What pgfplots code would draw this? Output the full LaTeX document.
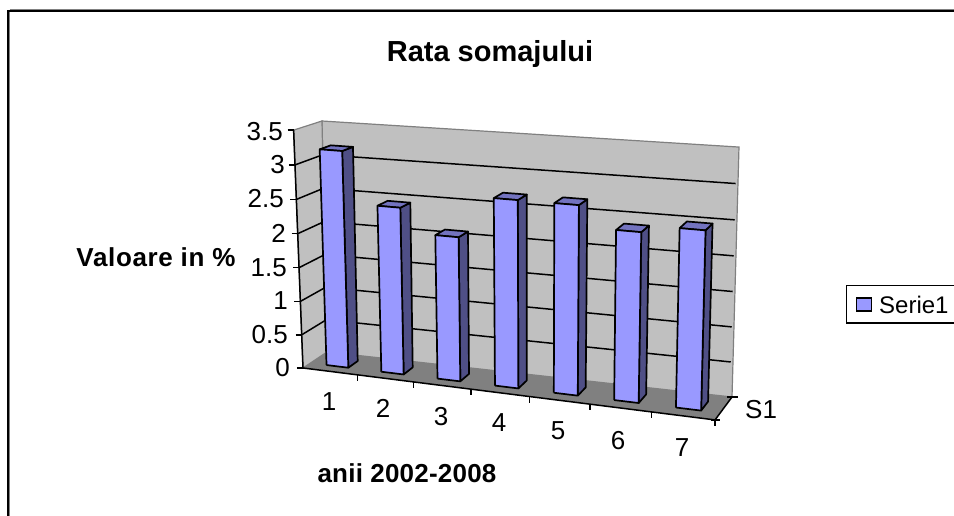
\documentclass[border=0pt]{standalone}
\usepackage{fontspec}
\setmainfont{Liberation Sans}
\newfontfamily\boldlab[LetterSpace=2.5]{Liberation Sans Bold}
\newfontfamily\boldlabb[LetterSpace=0.8]{Liberation Sans Bold}
\usepackage{pgfplots}
\usepackage{pgfplotstable}
\pgfplotsset{compat=1.18}
\definecolor{barfront}{HTML}{9999FF}
\definecolor{barside}{HTML}{4F4F86}
\definecolor{bartop}{HTML}{7373BF}
\definecolor{wall}{HTML}{C0C0C0}
\definecolor{floorc}{HTML}{808080}
\definecolor{edge}{HTML}{808080}
% one bar per year: category index, value in %
\pgfplotstableread{
cat val
0 3.2
1 2.45
2 2.1
3 2.7
4 2.7
5 2.4
6 2.5
}\bars
% projection of the Excel 3-D box: u along the categories, t up the value axis, s towards the viewer
\def\Cx{327}\def\Cy{352}\def\Dx{732}\def\Dy{397}\def\Ex{322}\def\Ey{121}\def\Ax{303}\def\Ay{368}
\def\al{0.9214}\def\ga{0.97254}\def\de{0.97}
\newcommand\proj[4]{%
 \pgfmathsetmacro\pw{1+(#2)*(\al-1)+(#3)*(\ga-1)+(#4)*(\de-1)}%
 \pgfmathsetmacro\pX{(\Cx+(#2)*(\al*\Dx-\Cx)+(#3)*(\ga*\Ex-\Cx)+(#4)*(\de*\Ax-\Cx))/\pw-4.5*(#4)*(#2)-3.5*(#4)*(#3)*(1-(#2))}%
 \pgfmathsetmacro\pY{(\Cy+(#2)*(\al*\Dy-\Cy)+(#3)*(\ga*\Ey-\Cy)+(#4)*(\de*\Ay-\Cy))/\pw+4*(#4)*(#2)}%
 \expandafter\let\csname px#1\endcsname\pX
 \expandafter\let\csname py#1\endcsname\pY}
\tikzset{barline/.style={draw=black,line width=1.7pt,line join=round,mark=none},
  tk/.style={black,line width=1.5pt,mark=none}}
\newcommand\drawbar[2]{%
 \pgfmathsetmacro\ul{(#1+0.3)/7}\pgfmathsetmacro\ur{(#1+0.7)/7}\pgfmathsetmacro\tv{#2/3.5}%
 \proj{a}{\ul}{0}{0.7}\proj{b}{\ur}{0}{0.7}\proj{c}{\ur}{\tv}{0.7}\proj{d}{\ul}{\tv}{0.7}%
 \proj{e}{\ur}{0}{0.3}\proj{f}{\ur}{\tv}{0.3}\proj{g}{\ul}{\tv}{0.3}%
 \addplot[barline,fill=barside] coordinates {(\pxb,\pyb)(\pxe,\pye)(\pxf,\pyf)(\pxc,\pyc)(\pxb,\pyb)};
 \addplot[barline,fill=bartop] coordinates {(\pxd,\pyd)(\pxc,\pyc)(\pxf,\pyf)(\pxg,\pyg)(\pxd,\pyd)};
 \addplot[barline,fill=barfront] coordinates {(\pxa,\pya)(\pxb,\pyb)(\pxc,\pyc)(\pxd,\pyd)(\pxa,\pya)};
}
\newcommand\gridat[1]{%
 \pgfmathsetmacro\tv{#1/3.5}%
 \proj{a}{0}{\tv}{1}\proj{b}{0}{\tv}{0}\proj{c}{0.995}{\tv}{0}%
 \addplot[tk] coordinates {(\pxa,\pya)(\pxb,\pyb)(\pxc,\pyc)};
 \addplot[tk] coordinates {({\pxa-6},\pya)(\pxa,\pya)};
}
\begin{document}
\begin{tikzpicture}
\useasboundingbox (0,0) rectangle (954pt,516pt);
\begin{axis}[
  at={(0,0)},anchor=south west,
  scale only axis,width=954pt,height=516pt,
  xmin=0,xmax=954,ymin=0,ymax=516,y dir=reverse,
  hide axis,clip=false,
  legend image code/.code={\draw[fill=barfront,draw=black,line width=1.5pt] (0pt,-6.5pt) rectangle (15pt,6.5pt);},
  legend style={at={(0.8868,0.4478)},anchor=north west,draw=black,line width=1.4pt,
    inner xsep=9pt,inner ysep=1.5pt,font=\fontsize{24}{28}\selectfont,
    legend cell align=left},
]
% chart frame
\addplot[edge,line width=1pt,mark=none] coordinates {(9.5,9.6)(960,9.6)};
\addplot[edge,line width=1pt,mark=none] coordinates {(9.6,12)(9.6,520)};
\addplot[black,line width=2pt,mark=none] coordinates {(8,520)(8,11)(960,11)};
% walls and floor
\proj{a}{0}{0}{1}\proj{b}{1}{0}{1}\proj{c}{1}{0}{0}\proj{d}{0}{0}{0}\proj{e}{0}{1}{0}\proj{f}{1}{1}{0}\proj{g}{0}{1}{1}
\addplot[draw=none,fill=floorc,mark=none] coordinates {(\pxa,\pya)(\pxb,\pyb)(\pxc,\pyc)(\pxd,\pyd)(\pxa,\pya)};
\addplot[edge,line width=1.2pt,fill=wall,mark=none] coordinates {(\pxd,\pyd)(\pxc,\pyc)(\pxf,\pyf)(\pxe,\pye)(\pxd,\pyd)};
\addplot[edge,line width=1.2pt,fill=wall,mark=none] coordinates {(\pxa,\pya)(\pxd,\pyd)(\pxe,\pye)(\pxg,\pyg)(\pxa,\pya)};
% value grid and ticks
\gridat{0.5}\gridat{1}\gridat{1.5}\gridat{2}\gridat{2.5}\gridat{3}
\proj{a}{0}{1}{1}
\addplot[tk] coordinates {({\pxa-6},\pya)(\pxa,\pya)};
% axis lines
\proj{a}{0}{0}{1}\proj{b}{1}{0}{1}\proj{c}{1}{0}{0}\proj{g}{0}{1}{1}
\addplot[tk] coordinates {(\pxg,\pyg)(\pxa,\pya)(\pxb,\pyb)(\pxc,\pyc)};
\addplot[tk] coordinates {({\pxa-6},\pya)(\pxa,\pya)};
\addplot[tk] coordinates {({\pxb-4},\pyb)({\pxb+5},\pyb)};
\addplot[tk] coordinates {({\pxc-5},\pyc)({\pxc+6},\pyc)};
% category ticks
\pgfplotsinvokeforeach{1,...,7}{%
 \pgfmathsetmacro\uu{#1/7}\proj{a}{\uu}{0}{1}%
 \addplot[tk] coordinates {(\pxa,\pya)(\pxa,{\pya+6})};
}
% bars
\pgfplotsinvokeforeach{0,...,6}{%
 \pgfplotstablegetelem{#1}{val}\of\bars
 \let\barv\pgfplotsretval
 \drawbar{#1}{\barv}
}
\addlegendimage{empty legend}
\addlegendentry{\rule[-9pt]{0pt}{38pt}\hspace{5pt}\raisebox{5pt}{Serie1}\hspace{60pt}}
% text
\node[font=\bfseries\fontsize{29}{32}\selectfont] at (axis cs:490,54) {Rata somajului};
\node[font=\boldlab\fontsize{26}{28}\selectfont] at (axis cs:156,257) {Valoare in \%};
\node[font=\boldlabb\fontsize{26}{28}\selectfont] at (axis cs:407,473) {anii 2002-2008};
\begin{scope}[every node/.style={font=\fontsize{26}{28}\selectfont,inner sep=0pt}]
\node[anchor=east] at (axis cs:283,132) {3.5};
\node[anchor=east] at (axis cs:285,165) {3};
\node[anchor=east] at (axis cs:284,199) {2.5};
\node[anchor=east] at (axis cs:286,233) {2};
\node[anchor=east] at (axis cs:287,268) {1.5};
\node[anchor=east] at (axis cs:288,301) {1};
\node[anchor=east] at (axis cs:288,335) {0.5};
\node[anchor=east] at (axis cs:290,368) {0};
\node at (axis cs:329,402) {1};
\node at (axis cs:383,408) {2};
\node at (axis cs:441,417) {3};
\node at (axis cs:499,423) {4};
\node at (axis cs:558,431) {5};
\node at (axis cs:618,441) {6};
\node at (axis cs:682,448) {7};
\node[anchor=west] at (axis cs:745,410) {S1};
\end{scope}
\end{axis}
\end{tikzpicture}
\end{document}
